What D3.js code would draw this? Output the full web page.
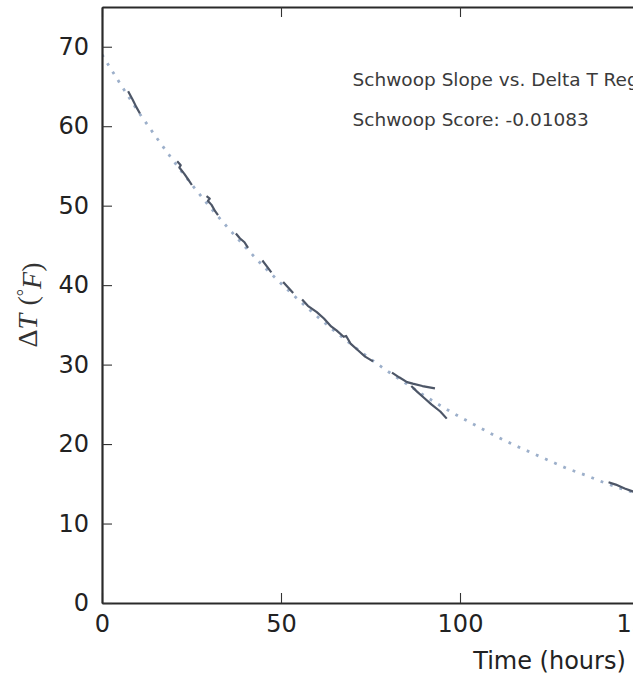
<!DOCTYPE html>
<html>
<head>
<meta charset="utf-8">
<script src="https://cdn.jsdelivr.net/npm/d3@7"></script>
<style>
  html, body { margin: 0; padding: 0; background: #fff; overflow: hidden; }
  svg { display: block; }
</style>
</head>
<body>
<script>
// fitted decay curve (hours, delta T)
const fitHours = [0, 5, 10, 15, 20, 25, 30, 35, 40, 45, 50, 55, 60, 65, 70, 75,
  80, 85, 90, 95, 100, 105, 110, 115, 120, 125, 130, 135, 140, 145, 150];
const fitDeltaT = [69.0, 65.4, 61.9, 58.7, 55.6, 52.7, 49.9, 47.3, 44.8, 42.4, 40.2,
  38.1, 36.1, 34.2, 32.4, 30.7, 29.1, 27.6, 26.1, 24.7, 23.4, 22.2, 21.0, 19.9,
  18.9, 17.9, 16.9, 16.1, 15.2, 14.4, 13.7];

// measured stretches, [hours, delta T]
const runA = [[7.3, 64.4], [8.5, 63.4], [9.6, 62.4], [10.6, 61.6]];
const runB = [[21.0, 55.6], [22.0, 55.1], [21.6, 54.8], [23.0, 54.0], [24.2, 53.2], [25.1, 52.6]];
const runC = [[29.2, 51.2], [30.1, 50.9], [29.6, 50.6], [30.6, 50.1], [31.6, 49.3], [32.4, 48.8]];
const runD = [[37.4, 46.5], [38.5, 45.9], [39.8, 45.4], [40.8, 44.7]];
const runE = [[44.8, 43.1], [46.0, 42.4], [47.3, 41.6]];
const runF = [[50.6, 40.4], [52.0, 39.7], [53.4, 39.0]];
const runG = [[55.9, 38.2], [57.5, 37.4], [60.0, 36.6], [62.0, 35.8], [64.0, 34.8],
  [65.5, 34.3], [67.5, 33.5], [68.2, 33.6], [69.5, 32.6], [71.5, 31.8], [73.5, 31.0], [75.7, 30.4]];
const runH = [[81.0, 29.0], [83.0, 28.4], [85.2, 27.8], [86.8, 27.6], [89.5, 27.3], [93.0, 27.0]];
const runI = [[86.4, 27.3], [88.0, 26.6], [90.0, 25.8], [92.0, 25.0], [94.5, 24.1], [96.3, 23.2]];
const runJ = [[141.5, 15.2], [143.5, 14.9], [146.0, 14.4], [148.5, 14.0]];
const runs = [runA, runB, runC, runD, runE, runF, runG, runH, runI, runJ];

const xTicks = [0, 50, 100, 150, 200, 250];
const yTicks = [0, 10, 20, 30, 40, 50, 60, 70];
const xDomain = [0, 250];
const yDomain = [0, 75];

const noteX = 70;
const noteLines = [
  { y: 65, text: "Schwoop Slope vs. Delta T Regression" },
  { y: 60, text: "Schwoop Score: -0.01083" }
];

const width = 633;
const height = 679;
const margin = { left: 102, top: 7, bottom: 76 };
const plotW = 895;
const plotH = height - margin.top - margin.bottom;

const svg = d3.select("body")
  .append("svg")
  .attr("width", width)
  .attr("height", height);

const g = svg.append("g")
  .attr("transform", `translate(${margin.left},${margin.top})`);

const xScale = d3.scaleLinear().domain(xDomain).range([0, plotW]);
const yScale = d3.scaleLinear().domain(yDomain).range([plotH, 0]);

g.append("clipPath")
  .attr("id", "plot-clip")
  .append("rect")
  .attr("width", plotW)
  .attr("height", plotH);

const line = d3.line()
  .x(d => xScale(d[0]))
  .y(d => yScale(d[1]));

const plot = g.append("g").attr("clip-path", "url(#plot-clip)");

// dotted fit
plot.append("path")
  .datum(fitHours.map((h, i) => [h, fitDeltaT[i]]))
  .attr("d", line)
  .attr("fill", "none")
  .attr("stroke", "#9cafca")
  .attr("stroke-width", 2.8)
  .attr("stroke-dasharray", "2.8,7.2");

plot.selectAll("path.run")
  .data(runs)
  .enter()
  .append("path")
  .attr("class", "run")
  .attr("d", line)
  .attr("fill", "none")
  .attr("stroke", "#4d5667")
  .attr("stroke-width", 2.2)
  .attr("stroke-linejoin", "round");

// axes, ticks pointing inward like matplotlib classic
const axisFont = "'DejaVu Sans', sans-serif";
const xAxis = d3.axisBottom(xScale)
  .tickValues(xTicks)
  .tickFormat(d3.format("d"))
  .tickSizeInner(-10)
  .tickSizeOuter(0)
  .tickPadding(12);
const xTopAxis = d3.axisTop(xScale)
  .tickValues(xTicks)
  .tickFormat("")
  .tickSizeInner(-10)
  .tickSizeOuter(0);
const yAxis = d3.axisLeft(yScale)
  .tickValues(yTicks)
  .tickSizeInner(-10)
  .tickSizeOuter(0)
  .tickPadding(13);

const xAxisG = g.append("g").attr("transform", `translate(0,${plotH})`).call(xAxis);
const xTopG = g.append("g").call(xTopAxis);
const yAxisG = g.append("g").call(yAxis);

[xAxisG, xTopG, yAxisG].forEach(a => {
  a.select(".domain").attr("stroke", "#2a2a2a").attr("stroke-width", 2.2);
  a.selectAll(".tick line").attr("stroke", "#333").attr("stroke-width", 1.1);
  a.selectAll(".tick text")
    .attr("fill", "#222")
    .style("font-family", axisFont)
    .style("font-size", "24px");
});

svg.append("text")
  .attr("x", margin.left + plotW / 2)
  .attr("y", 669)
  .attr("text-anchor", "middle")
  .attr("fill", "#222")
  .style("font-family", axisFont)
  .style("font-size", "24px")
  .text("Time (hours)");

// y label: Delta T (deg F), mathtext-ish
const yLabel = svg.append("text")
  .attr("transform", `translate(37,${margin.top + plotH / 2}) rotate(-90)`)
  .attr("text-anchor", "middle")
  .attr("fill", "#333")
  .style("font-family", "'Liberation Serif', serif")
  .style("font-size", "28px");
yLabel.append("tspan").text("\u0394");
yLabel.append("tspan").style("font-style", "italic").text("T");
yLabel.append("tspan").attr("dx", "0.3em").text("(");
yLabel.append("tspan").attr("dy", "-0.4em").style("font-size", "18px").text("\u00b0");
yLabel.append("tspan").attr("dy", "0.4em").style("font-style", "italic").text("F");
yLabel.append("tspan").text(")");

g.selectAll("text.note")
  .data(noteLines)
  .enter()
  .append("text")
  .attr("class", "note")
  .attr("x", xScale(noteX))
  .attr("y", d => yScale(d.y))
  .attr("fill", "#3a3a3a")
  .style("font-family", axisFont)
  .style("font-size", "18.5px")
  .text(d => d.text);
</script>
</body>
</html>
